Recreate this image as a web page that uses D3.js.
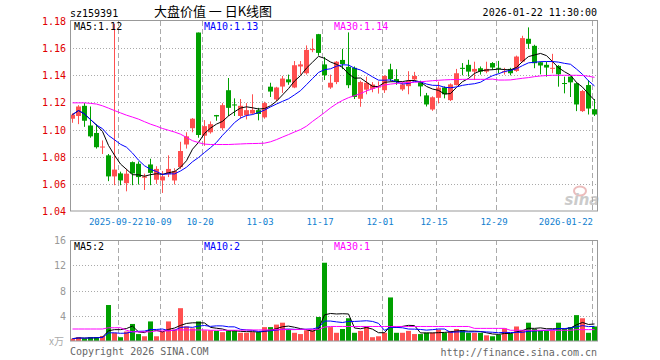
<!DOCTYPE html>
<html>
<head>
<meta charset="utf-8">
<script src="https://cdn.jsdelivr.net/npm/d3@7"></script>
<style>
body { margin: 0; background: #fff; }
svg text { font-family: "DejaVu Sans Mono", monospace; }
</style>
</head>
<body>
<svg id="chart" width="660" height="360"></svg>
<script>
// daily candles
const opens = [1.108,1.110,1.1175,1.103,1.0975,1.087,1.081,1.0655,1.0677,1.0605,
  1.076,1.0748,1.0645,1.0743,1.063,1.0625,1.067,1.0625,1.0723,1.089,
  1.101,1.1715,1.0955,1.098,1.1107,1.101,1.129,1.1185,1.110,1.1105,
  1.1118,1.1143,1.109,1.1316,1.1222,1.1317,1.137,1.131,1.1465,1.1415,
  1.1588,1.1703,1.148,1.131,1.135,1.1513,1.1462,1.1455,1.1227,1.1294,
  1.130,1.131,1.129,1.1444,1.1372,1.1296,1.132,1.137,1.135,1.1252,
  1.1148,1.1234,1.131,1.1217,1.1328,1.1455,1.1477,1.1427,1.1452,1.1427,
  1.149,1.1455,1.1425,1.1447,1.1432,1.1501,1.1669,1.1617,1.1496,1.1477,
  1.145,1.1469,1.1343,1.139,1.1341,1.1136,1.1328,1.115];
const highs = [1.112,1.118,1.1195,1.117,1.104,1.092,1.082,1.178,1.069,1.071,
  1.0765,1.0765,1.0675,1.0785,1.073,1.0695,1.081,1.0715,1.091,1.098,
  1.1085,1.1715,1.107,1.106,1.1108,1.1195,1.138,1.123,1.1225,1.1195,
  1.126,1.116,1.1205,1.1345,1.1315,1.1395,1.1405,1.1505,1.1505,1.162,
  1.167,1.1705,1.1535,1.1405,1.1505,1.1595,1.1716,1.1465,1.136,1.139,
  1.135,1.1355,1.140,1.1485,1.1445,1.135,1.143,1.1425,1.136,1.127,
  1.1245,1.1353,1.1318,1.134,1.1447,1.149,1.1514,1.150,1.1465,1.150,
  1.1497,1.1506,1.1455,1.1455,1.1545,1.1691,1.1753,1.1625,1.1501,1.1501,
  1.1558,1.1475,1.139,1.1392,1.1348,1.1292,1.1365,1.1225];
const lows = [1.105,1.104,1.102,1.094,1.086,1.082,1.062,1.059,1.059,1.0545,
  1.059,1.0595,1.0555,1.059,1.060,1.0533,1.065,1.0595,1.071,1.086,
  1.098,1.094,1.088,1.097,1.1065,1.0995,1.110,1.110,1.108,1.1075,
  1.1112,1.1068,1.108,1.124,1.121,1.127,1.133,1.1305,1.1405,1.1405,
  1.157,1.1545,1.1365,1.130,1.1335,1.1445,1.1305,1.1225,1.1168,1.126,
  1.1275,1.1265,1.127,1.1355,1.133,1.1285,1.126,1.136,1.1245,1.117,
  1.1138,1.1193,1.123,1.121,1.1325,1.140,1.139,1.1365,1.1405,1.1415,
  1.144,1.1415,1.1405,1.140,1.1425,1.1495,1.1595,1.1452,1.1407,1.139,
  1.1415,1.1316,1.1267,1.124,1.1136,1.113,1.1111,1.110];
const closes = [1.111,1.117,1.1065,1.095,1.087,1.0875,1.0655,1.0705,1.0625,1.0675,
  1.0677,1.065,1.0655,1.0681,1.071,1.0655,1.071,1.0695,1.0842,1.095,
  1.108,1.096,1.1025,1.104,1.1097,1.118,1.116,1.118,1.1175,1.1143,
  1.1145,1.1115,1.1195,1.128,1.131,1.1376,1.1348,1.1474,1.148,1.1587,
  1.1593,1.1565,1.140,1.1345,1.150,1.1483,1.1327,1.124,1.135,1.1345,
  1.1332,1.1318,1.1395,1.1372,1.135,1.1333,1.1358,1.1395,1.1318,1.1185,
  1.1238,1.1309,1.126,1.1333,1.1415,1.1447,1.1427,1.1447,1.1427,1.1447,
  1.1457,1.145,1.143,1.1415,1.1538,1.1674,1.1632,1.1489,1.1472,1.1457,
  1.1455,1.1407,1.134,1.1348,1.1185,1.1284,1.1155,1.1111];
// 30-day average as drawn (it needs history before the first candle)
const ma30 = [1.1197,1.1197,1.1197,1.1193,1.1188,1.1175,1.1158,1.1140,1.1123,1.1106,
  1.1092,1.1077,1.1058,1.1040,1.1025,1.1008,1.0995,1.0982,1.0966,1.0942,
  1.0918,1.0904,1.0893,1.0890,1.0890,1.0890,1.0890,1.0892,1.0894,1.0896,
  1.0897,1.0898,1.0900,1.0910,1.0926,1.0945,1.0963,1.0982,1.1000,1.1025,
  1.1060,1.1092,1.1125,1.1160,1.1190,1.1215,1.1235,1.1250,1.1265,1.1285,
  1.1300,1.1315,1.1328,1.1335,1.1340,1.1345,1.1347,1.1348,1.1352,1.1356,
  1.1360,1.1363,1.1366,1.1368,1.1369,1.1370,1.1370,1.1370,1.1370,1.1370,
  1.1372,1.1365,1.1365,1.1366,1.1372,1.1378,1.1383,1.1390,1.1395,1.1398,
  1.1400,1.1400,1.1400,1.1400,1.1400,1.1398,1.1393,1.1385];
// volume, in 万
const volumes = [0.37,0.6,0.4,0.6,0.6,0.8,5.7,1.3,0.6,1.5,
  2.7,1.1,0.75,3.1,0.75,1.5,3.1,1.8,5.2,2.3,
  2.0,3.1,1.7,1.7,1.6,1.4,1.7,1.7,1.3,1.3,
  1.4,1.4,2.2,2.2,2.6,2.9,1.9,1.3,1.1,1.7,
  1.7,3.8,12.4,2.2,1.3,1.9,3.6,1.3,1.6,2.3,
  0.6,0.75,1.3,6.9,1.3,1.3,1.6,1.1,1.1,1.3,
  1.3,1.8,1.3,1.6,1.9,1.7,1.3,1.3,1.3,0.9,
  0.75,1.0,2.0,1.2,2.3,1.7,2.9,1.9,1.6,1.6,
  1.7,2.9,1.9,2.2,4.1,3.6,1.3,2.3];
const volMa30 = [1.9,1.9,1.9,1.9,1.9,1.9,2.1,2.1,2.1,1.7,
  1.45,1.45,1.45,1.45,1.6,1.6,1.6,1.75,1.75,1.75,
  1.75,1.75,1.75,1.7,1.7,1.7,1.7,1.7,1.7,1.75,
  1.75,1.75,1.75,1.75,1.8,1.8,1.8,1.8,1.85,1.85,
  1.85,1.85,2.2,2.3,2.3,2.3,2.3,2.3,2.3,2.3,
  2.3,2.3,2.3,2.3,2.3,2.3,2.3,2.3,2.3,2.3,
  2.3,2.3,2.3,2.3,2.3,2.3,2.3,2.0,2.0,2.0,
  2.0,2.0,2.0,1.7,1.7,1.7,1.7,1.7,1.7,1.7,
  1.7,1.7,1.7,1.7,1.8,1.8,1.8,1.8];

const tickIndex = [8, 15, 22, 32, 42, 52, 61, 71, 87];
const tickLabels = ['2025-09-22', '10-09', '10-20', '11-03', '11-17', '12-01', '12-15', '12-29', '2026-01-22'];
const priceTicks = [1.04, 1.06, 1.08, 1.10, 1.12, 1.14, 1.16, 1.18];
const volTicks = [4, 8, 12, 16];
const priceMaLabels = ['MA5:1.12', 'MA10:1.13', 'MA30:1.14'];
const volMaLabels = ['MA5:2', 'MA10:2', 'MA30:1'];
const maColors = ['#000', '#0000ff', '#ff00ff'];

const upColor = '#ff5050';
const downColor = '#00a000';

const svg = d3.select('#chart');
const n = closes.length;

const x = d3.scaleBand()
  .domain(d3.range(n))
  .range([69, 597]);
const cx = i => x(i) + 3;

const y = d3.scaleLinear().domain([1.04, 1.18]).range([211, 21]);
const yv = d3.scaleLinear().domain([0, 16]).range([341, 240]);

const movingAvg = (arr, k) => arr.map((d, i) => d3.mean(arr.slice(Math.max(0, i - k + 1), i + 1)));
const ma5 = movingAvg(closes, 5);
const ma10 = movingAvg(closes, 10);
const vma5 = movingAvg(volumes, 5);
const vma10 = movingAvg(volumes, 10);

const isUp = i => closes[i] >= opens[i];

// grids
const grid = svg.append('g');
[1.06, 1.08, 1.10, 1.12, 1.14, 1.16].forEach(t => {
  grid.append('line')
    .attr('x1', 70).attr('x2', 597)
    .attr('y1', Math.round(y(t)) + 0.5).attr('y2', Math.round(y(t)) + 0.5)
    .attr('stroke', '#aaa').attr('stroke-dasharray', '1,2');
});
[4, 8, 12].forEach(t => {
  grid.append('line')
    .attr('x1', 70).attr('x2', 597)
    .attr('y1', Math.round(yv(t)) + 0.5).attr('y2', Math.round(yv(t)) + 0.5)
    .attr('stroke', '#aaa').attr('stroke-dasharray', '1,2');
});
tickIndex.forEach(i => {
  const gx = x(i) + 1.5;
  grid.append('line')
    .attr('x1', gx).attr('x2', gx).attr('y1', 21).attr('y2', 211)
    .attr('stroke', '#aaa').attr('stroke-dasharray', '5,3');
  grid.append('line')
    .attr('x1', gx).attr('x2', gx).attr('y1', 240).attr('y2', 341)
    .attr('stroke', '#aaa').attr('stroke-dasharray', '5,3');
});

// candles
const candles = svg.append('g')
  .selectAll('g')
  .data(d3.range(n))
  .join('g');

candles.append('line')
  .attr('x1', i => cx(i) + 0.5).attr('x2', i => cx(i) + 0.5)
  .attr('y1', i => y(highs[i])).attr('y2', i => y(lows[i]))
  .attr('stroke', i => isUp(i) ? upColor : downColor);

candles.append('rect')
  .attr('x', i => cx(i) - 2)
  .attr('width', 5)
  .attr('y', i => y(Math.max(opens[i], closes[i])))
  .attr('height', i => Math.max(1, Math.abs(y(opens[i]) - y(closes[i]))))
  .attr('fill', i => isUp(i) ? upColor : downColor);

// volume bars
svg.append('g')
  .selectAll('rect')
  .data(d3.range(n))
  .join('rect')
  .attr('x', i => cx(i) - 2)
  .attr('width', 5)
  .attr('y', i => yv(volumes[i]))
  .attr('height', i => yv(0) - yv(volumes[i]))
  .attr('fill', i => isUp(i) ? upColor : downColor);

// moving average lines
const priceLine = d3.line().x((d, i) => cx(i) + 0.5).y(d => y(d));
const volLine = d3.line().x((d, i) => cx(i) + 0.5).y(d => yv(d));

[ma5, ma10, ma30].forEach((s, k) => {
  svg.append('path').attr('d', priceLine(s))
    .attr('fill', 'none').attr('stroke', maColors[k]).attr('stroke-width', 1);
});
[vma5, vma10, volMa30].forEach((s, k) => {
  svg.append('path').attr('d', volLine(s))
    .attr('fill', 'none').attr('stroke', maColors[k]).attr('stroke-width', 1);
});

// frames
svg.append('rect').attr('x', 70.5).attr('y', 20.5).attr('width', 527).attr('height', 190.5)
  .attr('fill', 'none').attr('stroke', '#999');
svg.append('rect').attr('x', 70.5).attr('y', 240.5).attr('width', 527).attr('height', 100.5)
  .attr('fill', 'none').attr('stroke', '#999');

// axis labels
svg.append('g')
  .selectAll('text')
  .data(priceTicks)
  .join('text')
  .attr('x', 66).attr('y', d => y(d) + 4)
  .attr('text-anchor', 'end')
  .attr('fill', '#e00000')
  .style('font-size', '10px')
  .text(d => d.toFixed(2));

svg.append('g')
  .selectAll('text')
  .data(volTicks)
  .join('text')
  .attr('x', 66).attr('y', d => yv(d) + 4)
  .attr('text-anchor', 'end')
  .attr('fill', '#999')
  .style('font-size', '10px')
  .text(d => d);

svg.append('g')
  .selectAll('text')
  .data(tickIndex)
  .join('text')
  .attr('x', (d, k) => k === tickIndex.length - 1 ? x(d) + 2 : x(d) - 1)
  .attr('y', 225)
  .attr('text-anchor', (d, k) => k === tickIndex.length - 1 ? 'end' : 'middle')
  .attr('fill', '#1080d0')
  .style('font-size', '9px')
  .text((d, k) => tickLabels[k]);

// MA legends
const legendX = [74, 204, 334];
priceMaLabels.forEach((t, k) => {
  svg.append('text').attr('x', legendX[k]).attr('y', 30)
    .attr('fill', maColors[k]).style('font-size', '10px').text(t);
});
volMaLabels.forEach((t, k) => {
  svg.append('text').attr('x', legendX[k]).attr('y', 250)
    .attr('fill', maColors[k]).style('font-size', '10px').text(t);
});

// header
svg.append('text').attr('x', 70).attr('y', 17)
  .style('font-size', '10px').attr('fill', '#000').text('sz159391');
svg.append('text').attr('x', 213).attr('y', 16)
  .attr('text-anchor', 'middle')
  .style('font-family', '"Noto Sans CJK SC", sans-serif')
  .style('font-size', '13px').attr('fill', '#000')
  .text('大盘价值 一 日K线图');
svg.append('text').attr('x', 597).attr('y', 16)
  .attr('text-anchor', 'end')
  .style('font-size', '10px').attr('fill', '#000').text('2026-01-22 11:30:00');

// footer
svg.append('text').attr('x', 49).attr('y', 345)
  .style('font-family', '"Noto Sans CJK SC", sans-serif')
  .style('font-size', '10px').attr('fill', '#aaa').text('x万');
svg.append('text').attr('x', 70).attr('y', 355)
  .style('font-size', '10px').attr('fill', '#666').text('Copyright 2026 SINA.COM');
svg.append('text').attr('x', 597).attr('y', 356)
  .attr('text-anchor', 'end')
  .style('font-size', '10px').attr('fill', '#666').text('http://finance.sina.com.cn');

// sina watermark
const logo = svg.append('g').attr('opacity', 0.6);
logo.append('ellipse').attr('cx', 580).attr('cy', 191).attr('rx', 6).attr('ry', 4.5)
  .attr('fill', 'none').attr('stroke', '#e09090').attr('stroke-width', 2);
logo.append('text').attr('x', 582).attr('y', 205)
  .attr('text-anchor', 'middle')
  .style('font-family', '"DejaVu Sans", sans-serif')
  .style('font-size', '15px').style('font-weight', 'bold').style('font-style', 'italic')
  .attr('fill', '#aaa').text('sina');
</script>
</body>
</html>
